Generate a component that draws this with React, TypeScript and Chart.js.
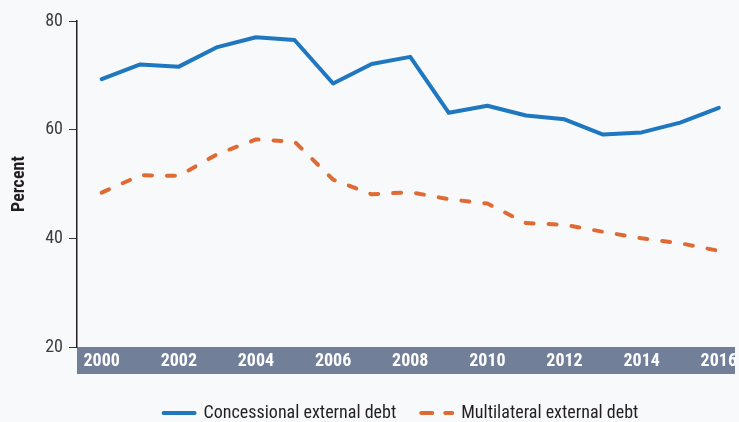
import React, { useEffect, useRef } from "react";
import { Chart, registerables } from "chart.js";

Chart.register(...registerables);

const years = [2000, 2001, 2002, 2003, 2004, 2005, 2006, 2007, 2008, 2009, 2010, 2011, 2012, 2013, 2014, 2015, 2016];
const concessional = [69.3, 72.0, 71.6, 75.2, 77.0, 76.5, 68.5, 72.1, 73.4, 63.1, 64.4, 62.6, 61.9, 59.1, 59.5, 61.3, 64.0];
const multilateral = [48.4, 51.6, 51.5, 55.5, 58.2, 57.8, 50.8, 48.1, 48.5, 47.2, 46.4, 42.8, 42.5, 41.2, 40.0, 39.1, 37.7];
const xTickYears = [2000, 2002, 2004, 2006, 2008, 2010, 2012, 2014, 2016];
const yTickValues = [20, 40, 60, 80];
const seriesLabels = ["Concessional external debt", "Multilateral external debt"];

const FONT = "'Roboto Condensed', Roboto, sans-serif";
const BG = "#f7f9fb";
const BAND = "#717f99";
const BLUE = "#1f77c0";
const ORANGE = "#df6a33";
const BAND_H = 27;

const bandPlugin = {
  id: "bandPlugin",
  afterLayout(chart: any) {
    if (chart.legend) {
      chart.legend.left -= 5;
      chart.legend.right -= 5;
    }
  },
  beforeDraw(chart: any) {
    const { ctx, chartArea, width, height } = chart;
    ctx.save();
    ctx.fillStyle = BG;
    ctx.fillRect(0, 0, width, height);
    ctx.fillStyle = BAND;
    ctx.fillRect(chartArea.left, chartArea.bottom, chartArea.right - chartArea.left, BAND_H);
    ctx.restore();
  },
};

export default function App() {
  const ref = useRef<HTMLCanvasElement | null>(null);

  useEffect(() => {
    if (!ref.current) return;
    const chart = new Chart(ref.current, {
      type: "line",
      data: {
        datasets: [
          {
            label: seriesLabels[0],
            data: years.map((y, i) => ({ x: y, y: concessional[i] })),
            borderColor: BLUE,
            backgroundColor: BLUE,
            borderWidth: 4,
            pointRadius: 0,
            tension: 0,
            borderCapStyle: "round",
            borderJoinStyle: "round",
          },
          {
            label: seriesLabels[1],
            data: years.map((y, i) => ({ x: y, y: multilateral[i] })),
            borderColor: ORANGE,
            backgroundColor: ORANGE,
            borderWidth: 4,
            borderDash: [8, 15],
            pointRadius: 0,
            tension: 0,
            borderCapStyle: "round",
            borderJoinStyle: "round",
          },
        ],
      },
      options: {
        responsive: false,
        animation: false,
        devicePixelRatio: 1,
        layout: { padding: { left: 0, right: 4, top: 21, bottom: 0 } },
        plugins: {
          tooltip: { enabled: false },
          legend: {
            position: "bottom",
            fullSize: false,
            labels: {
              usePointStyle: true,
              pointStyleWidth: 31,
              padding: 25,
              color: "#231f20",
              font: { size: 18, family: FONT },
              generateLabels(c: any) {
                return c.data.datasets.map((ds: any, i: number) => ({
                  text: ds.label,
                  fillStyle: ds.borderColor,
                  strokeStyle: ds.borderColor,
                  fontColor: "#231f20",
                  lineWidth: 4,
                  lineDash: ds.borderDash ? [11, 13] : [],
                  lineCap: "round",
                  pointStyle: "line",
                  hidden: false,
                  datasetIndex: i,
                }));
              },
            },
          },
        },
        scales: {
          x: {
            type: "linear",
            min: 1999.36,
            max: 2016.42,
            afterBuildTicks(scale: any) {
              scale.ticks = xTickYears.map((v) => ({ value: v }));
            },
            afterFit(scale: any) {
              scale.height = 32;
              scale.paddingLeft = 0;
              scale.paddingRight = 0;
            },
            grid: { display: false, drawTicks: false, tickLength: 0 },
            border: { display: false },
            ticks: {
              color: "#ffffff",
              padding: 4,
              maxRotation: 0,
              autoSkip: false,
              font: { size: 18, weight: "bold", family: FONT, lineHeight: 1.2 },
              callback: (v: any) => String(v),
            },
          },
          y: {
            min: 20,
            max: 80,
            afterBuildTicks(scale: any) {
              scale.ticks = yTickValues.map((v) => ({ value: v }));
            },
            afterFit(scale: any) {
              scale.width = 77;
              scale.paddingTop = 0;
              scale.paddingBottom = 0;
            },
            grid: {
              display: true,
              drawOnChartArea: false,
              drawTicks: true,
              tickLength: 8,
              tickWidth: 1,
              tickColor: "#333333",
            },
            border: { display: true, color: "#231f20", width: 1.5 },
            ticks: {
              color: "#3d3d3d",
              padding: 6,
              font: { size: 18, family: FONT },
            },
            title: {
              display: true,
              text: "Percent",
              color: "#231f20",
              padding: { top: 9, bottom: 0 },
              font: { size: 18, weight: "bold", family: FONT },
            },
          },
        },
      },
      plugins: [bandPlugin],
    } as any);
    return () => chart.destroy();
  }, []);

  return (
    <div
      style={{
        position: "fixed",
        left: 0,
        top: 0,
        width: 739,
        height: 422,
        overflow: "hidden",
        background: BG,
      }}
    >
      <canvas ref={ref} width={739} height={432} style={{ display: "block" }} />
    </div>
  );
}
